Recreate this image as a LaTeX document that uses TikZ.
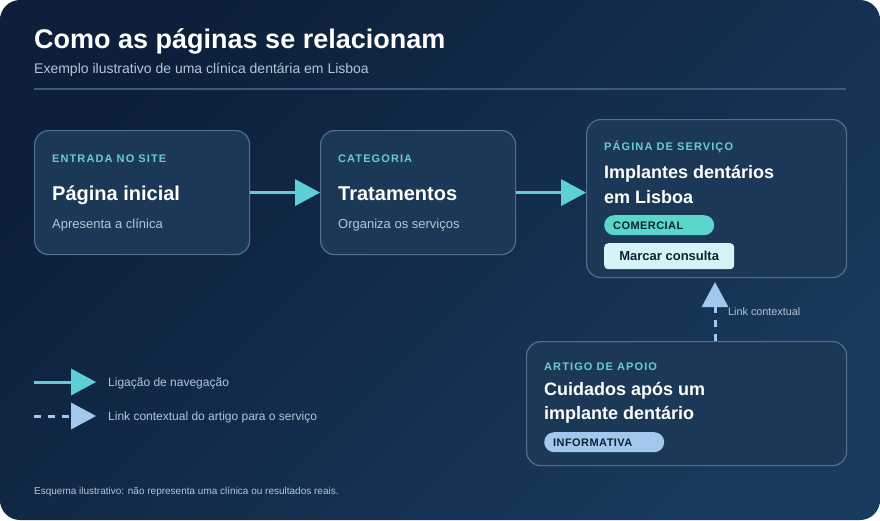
\documentclass[tikz,border=0pt]{standalone}
\usepackage{fontspec}
\setmainfont{Liberation Sans}
\newfontfamily\capsfont[LetterSpace=10]{Liberation Sans}
\newfontfamily\pillfont[LetterSpace=4]{Liberation Sans}
\usetikzlibrary{arrows.meta, positioning}
\definecolor{cBgA}{HTML}{0D1F3A}
\definecolor{cBgB}{HTML}{183A5C}
\definecolor{cCard}{HTML}{1B3956}
\definecolor{cCardLine}{HTML}{50708E}
\definecolor{cTeal}{HTML}{5CD0D6}
\definecolor{cTealText}{HTML}{6CCAD4}
\definecolor{cSky}{HTML}{A3C8EE}
\definecolor{cMuted}{HTML}{B4C6D8}
\definecolor{cRule}{HTML}{3B5B7B}
\definecolor{cInk}{HTML}{0E2234}
\definecolor{cMint}{HTML}{5AD6CC}
\definecolor{cButton}{HTML}{D6F3F5}
\tikzset{
	card/.style      ={rectangle, rounded corners=14pt, draw=cCardLine, line width=1.2pt, fill=cCard, anchor=north west, inner sep=0pt},
	kicker/.style    ={anchor=base west, inner sep=0pt, text=cTealText, font=\capsfont\bfseries\fontsize{11}{13}\selectfont},
	heading/.style   ={anchor=base west, inner sep=0pt, text=white, font=\bfseries\fontsize{20}{24}\selectfont},
	subheading/.style={anchor=base west, inner sep=0pt, text=white, font=\bfseries\fontsize{18}{22}\selectfont},
	blurb/.style     ={anchor=base west, inner sep=0pt, text=cMuted, font=\fontsize{13}{15}\selectfont},
	pill/.style      ={rectangle, rounded corners=10pt, anchor=north west, inner sep=0pt, minimum height=20pt},
	pilltext/.style  ={anchor=base west, inner sep=0pt, text=cInk, font=\pillfont\bfseries\fontsize{11}{13}\selectfont},
	% connectors
	navarrow/.style  ={draw=cTeal, line width=3pt, -{Triangle[length=25pt 0 0, width=27pt 0 0, line width=0pt]}},
	ctxarrow/.style  ={draw=cSky, line width=3pt, dash pattern=on 7pt off 7pt, -{Triangle[length=25pt 0 0, width=27pt 0 0, line width=0pt]}},
}

\begin{document}
\begin{tikzpicture}[x=1pt, y=-1pt]
	\useasboundingbox (0,0) rectangle (880,520);
	\fill[white] (0,0) rectangle (880,520);
	\shade[rounded corners=20pt, top color=cBgA, bottom color=cBgB, shading angle=45] (0,0) rectangle (880,520);

	% header
	\node[anchor=base west, inner sep=0pt, text=white, font=\bfseries\fontsize{27}{31}\selectfont] (titulo) at (34,48) {Como as páginas se relacionam};
	\node[anchor=base west, inner sep=0pt, text=cMuted, font=\fontsize{14}{16}\selectfont] (subtitulo) at (34,73) {Exemplo ilustrativo de uma clínica dentária em Lisboa};
	\draw[cRule, line width=1.5pt] (34,89) -- (846,89);

	% cards
	\node[card, minimum width=215pt, minimum height=124pt] (inicio) at (34,130) {};
	\node[kicker] (inicioK) at (52,162) {ENTRADA NO SITE};
	\node[heading] (inicioT) at (52,200) {Página inicial};
	\node[blurb] (inicioB) at (52,228) {Apresenta a clínica};

	\node[card, minimum width=195pt, minimum height=124pt] (tratamentos) at (320,130) {};
	\node[kicker] (tratK) at (338,162) {CATEGORIA};
	\node[heading] (tratT) at (338,200) {Tratamentos};
	\node[blurb] (tratB) at (338,228) {Organiza os serviços};

	\node[card, minimum width=260pt, minimum height=158pt] (servico) at (586,119) {};
	\node[kicker] (servK) at (604,150) {PÁGINA DE SERVIÇO};
	\node[subheading] (servT1) at (604,178) {Implantes dentários};
	\node[subheading] (servT2) at (604,203) {em Lisboa};
	\node[pill, fill=cMint, minimum width=110pt] (comercial) at (604,215) {};
	\node[pilltext] (comercialT) at (613,229.5) {COMERCIAL};
	\node[rectangle, rounded corners=4pt, fill=cButton, anchor=north west, minimum width=130pt, minimum height=26pt, inner sep=0pt] (consulta) at (604,243) {};
	\node[text=cInk, inner sep=0pt, font=\bfseries\fontsize{13}{15}\selectfont] (consultaT) at (consulta) {Marcar consulta};

	\node[card, minimum width=320pt, minimum height=124pt] (artigo) at (526,341) {};
	\node[kicker] (artK) at (544,370) {ARTIGO DE APOIO};
	\node[subheading] (artT1) at (544,395) {Cuidados após um};
	\node[subheading] (artT2) at (544,419) {implante dentário};
	\node[pill, fill=cSky, minimum width=120pt] (informativa) at (544,432) {};
	\node[pilltext] (informativaT) at (553,446.5) {INFORMATIVA};

	% connectors
	\draw[navarrow] (inicio.east) -- (tratamentos.west);
	\draw[navarrow] (tratamentos.east) -- (tratamentos.east -| servico.west);
	\coordinate (ctxA) at (715,341);
	\draw[ctxarrow, shorten >=4pt] (ctxA) -- (ctxA |- servico.south);
	\node[anchor=base west, inner sep=0pt, text=cMuted, font=\fontsize{10.8}{12}\selectfont] (ctxLabel) at (728,315) {Link contextual};

	% legend
	\coordinate (legA) at (34,382);
	\coordinate (legB) at (96,382);
	\coordinate (legC) at (34,416);
	\coordinate (legD) at (96,416);
	\draw[navarrow] (legA) -- (legB);
	\draw[ctxarrow] (legC) -- (legD);
	\node[anchor=base west, inner sep=0pt, text=cMuted, font=\fontsize{12}{14}\selectfont] (legNav) at (108,386) {Ligação de navegação};
	\node[anchor=base west, inner sep=0pt, text=cMuted, font=\fontsize{12}{14}\selectfont] (legCtx) at (108,420) {Link contextual do artigo para o serviço};

	\node[anchor=base west, inner sep=0pt, text=cMuted, font=\fontsize{10}{12}\selectfont] (rodape) at (34,494) {Esquema ilustrativo: não representa uma clínica ou resultados reais.};
\end{tikzpicture}
\end{document}
